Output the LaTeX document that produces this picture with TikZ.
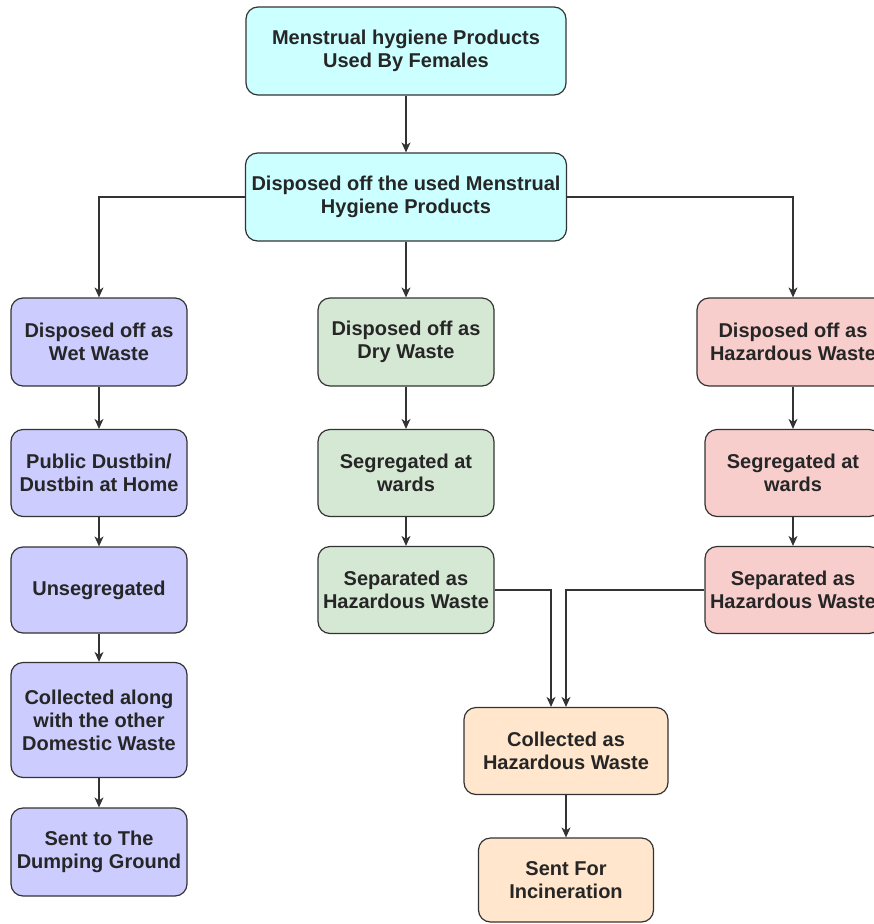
\documentclass[tikz,border=0pt]{standalone}
\usepackage{fontspec}
\setmainfont{Liberation Sans}
\usetikzlibrary{arrows.meta,positioning}
\definecolor{topcyan}{HTML}{CCFFFF}
\definecolor{wetblue}{HTML}{CCCCFF}
\definecolor{drygreen}{HTML}{D5E8D4}
\definecolor{hazred}{HTML}{F8CECC}
\definecolor{collpeach}{HTML}{FFE6CC}
\definecolor{edgegray}{HTML}{333333}

\begin{document}
\begin{tikzpicture}[x=1pt,y=-1pt,
  box/.style={draw=edgegray, line width=1.2pt, rounded corners=12pt, align=center,
    inner sep=2pt, font=\fontsize{20}{23}\selectfont\bfseries, text=black!85,
    minimum width=176pt, minimum height=88pt},
  arr/.style={draw=edgegray, line width=1.2pt, -{Stealth[length=10pt,width=9pt,inset=3pt]}}]
\useasboundingbox (0,0) rectangle (874,924);
\clip (0,0) rectangle (874,924);
% top of the chart
\node[box, fill=topcyan, minimum width=320pt] (used) at (406,51) {Menstrual hygiene Products\\Used By Females};
\node[box, fill=topcyan, minimum width=321pt] (disp) at (406,197) {Disposed off the used Menstrual\\Hygiene Products};
% wet waste column
\node[box, fill=wetblue] (wet) at (99,342) {Disposed off as\\Wet Waste};
\node[box, fill=wetblue, minimum height=87pt] (dustbin) at (99,473) {Public Dustbin/\\Dustbin at Home};
\node[box, fill=wetblue, minimum height=86pt] (unseg) at (99,590) {Unsegregated};
\node[box, fill=wetblue, minimum height=115pt] (domestic) at (99,720) {Collected along\\with the other\\Domestic Waste};
\node[box, fill=wetblue] (dump) at (99,852) {Sent to The\\Dumping Ground};
% dry waste column
\node[box, fill=drygreen] (dry) at (406,342) {Disposed off as\\Dry Waste};
\node[box, fill=drygreen, minimum height=87pt] (wardsdry) at (406,473) {Segregated at\\wards};
\node[box, fill=drygreen, minimum height=87pt] (sepdry) at (406,590) {Separated as\\Hazardous Waste};
% hazardous column
\node[box, fill=hazred, minimum width=192pt] (haz) at (793,342) {Disposed off as\\Hazardous Waste};
\node[box, fill=hazred, minimum height=87pt] (wardshaz) at (793,473) {Segregated at\\wards};
\node[box, fill=hazred, minimum height=87pt] (sephaz) at (793,590) {Separated as\\Hazardous Waste};
% collection and incineration
\node[box, fill=collpeach, minimum width=204pt, minimum height=87pt] (collhaz) at (566,751) {Collected as\\Hazardous Waste};
\node[box, fill=collpeach, minimum width=175pt, minimum height=84pt] (incin) at (566,880) {Sent For\\Incineration};

\draw[arr] (used) -- (disp);
\draw[arr] (disp.west) -| (wet);
\draw[arr] (disp) -- (dry);
\draw[arr] (disp.east) -| (haz);
\draw[arr] (wet) -- (dustbin);
\draw[arr] (dustbin) -- (unseg);
\draw[arr] (unseg) -- (domestic);
\draw[arr] (domestic) -- (dump);
\draw[arr] (dry) -- (wardsdry);
\draw[arr] (wardsdry) -- (sepdry);
\draw[arr] (haz) -- (wardshaz);
\draw[arr] (wardshaz) -- (sephaz);
\draw[arr] (sepdry.east) -| ([xshift=-15pt]collhaz.north);
\draw[arr] (sephaz.west) -| (collhaz.north);
\draw[arr] (collhaz) -- (incin);
\end{tikzpicture}
\end{document}
